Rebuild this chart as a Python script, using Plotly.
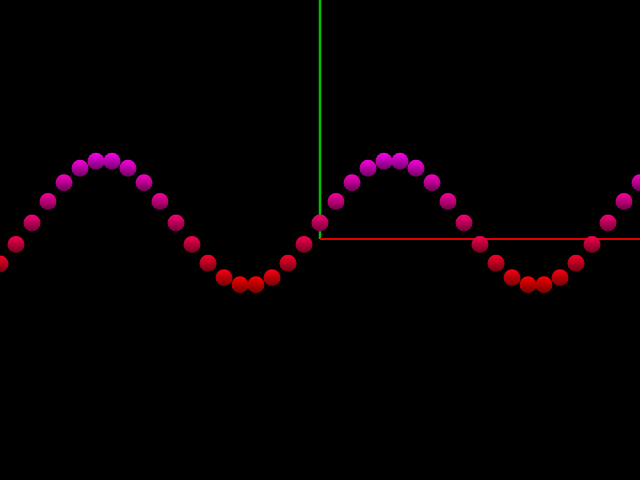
import plotly.graph_objects as go

# sphere positions (index along x axis) and heights
xs = list(range(-20, 21))
ys = [-0.65, -0.34, 0.0, 0.34, 0.64, 0.87, 0.98, 0.98, 0.87, 0.64,
      0.34, 0.0, -0.34, -0.64, -0.87, -0.98, -0.98, -0.87, -0.64, -0.34,
      0.0, 0.34, 0.64, 0.87, 0.98, 0.98, 0.87, 0.64, 0.34, 0.0,
      -0.34, -0.64, -0.87, -0.98, -0.98, -0.87, -0.64, -0.34, 0.0, 0.34, 0.64]

axis_origin = -0.254


def col(v, k):
    t = (v + 1) / 2
    r = int(250 * k)
    b = int(250 * t * 0.95 * k)
    return f"rgb({r},0,{b})"


brights = [col(v, 1.0) for v in ys]
darks = [col(v, 0.45) for v in ys]

fig = go.Figure()
# y axis (green)
fig.add_trace(go.Scatter(x=[0, 0], y=[axis_origin, 4], mode="lines",
                         line=dict(color="#00c000", width=2.5), hoverinfo="skip"))
# x axis (red)
fig.add_trace(go.Scatter(x=[0, 21], y=[axis_origin, axis_origin], mode="lines",
                         line=dict(color="#e00000", width=2), hoverinfo="skip"))
fig.add_trace(go.Scatter(
    x=xs, y=ys, mode="markers",
    marker=dict(size=17, color=brights, line=dict(width=0),
                gradient=dict(type="vertical", color=darks)),
    hoverinfo="skip"))

fig.update_layout(
    width=640, height=480,
    margin=dict(l=0, r=0, t=0, b=0),
    paper_bgcolor="black", plot_bgcolor="black",
    showlegend=False,
    xaxis=dict(range=[-20, 20], visible=False),
    yaxis=dict(range=[-(480 - 223) / 63, 223 / 63], visible=False),
)
fig.write_html("out.html", config={"displayModeBar": False},
               post_script="document.body.style.margin='0';document.body.style.background='black';document.documentElement.style.background='black';")
